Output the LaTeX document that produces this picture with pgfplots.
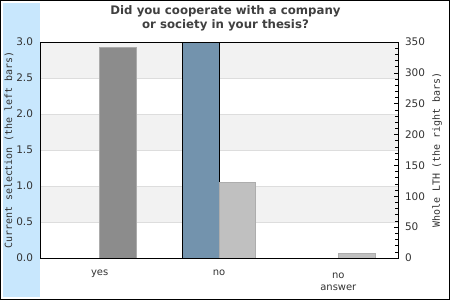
\documentclass[border=0pt]{standalone}
\usepackage{pgfplots}
\pgfplotsset{compat=1.18}
\usepackage{fontspec}
\setmainfont{DejaVu Sans}
\newfontfamily\monofont{DejaVu Sans Mono}
\definecolor{bandgray}{HTML}{F2F2F2}
\definecolor{gridgray}{HTML}{DDDDDD}
\definecolor{sidebar}{HTML}{C8E7FD}
\definecolor{selblue}{HTML}{7393AD}
\definecolor{darkbar}{HTML}{8C8C8C}
\definecolor{darkbarb}{HTML}{ABABAB}
\definecolor{lightbar}{HTML}{C0C0C0}
\definecolor{titlegray}{HTML}{404040}
\definecolor{labgray}{HTML}{333333}
\pgfplotstableread{
x sel
0 0
1 3
2 0
}\selection
\pgfplotstableread{
x lth
0 342
}\lthyes
\pgfplotstableread{
x lth
1 123
2 8
}\lthrest
\begin{document}
\begin{tikzpicture}
\path[use as bounding box] (0,0) rectangle (450bp,300bp);
\fill[white] (0,0) rectangle (450bp,300bp);
\fill[sidebar] (3bp,3bp) rectangle (40bp,297bp);
\draw[black,line width=1.2bp] (0.6bp,0.6bp) rectangle (449.4bp,299.4bp);
\node[font=\fontsize{11.8}{13.5}\bfseries\selectfont,text=titlegray,align=center] at (225.5bp,281.5bp) {Did you cooperate with a company\\or society in your thesis?};
% background bands
\begin{axis}[at={(40bp,42bp)},anchor=south west,width=358bp,height=216bp,scale only axis,
  xmin=-0.5,xmax=2.5,ymin=0,ymax=3,hide axis]
\fill[bandgray] (axis cs:-0.5,2.5) rectangle (axis cs:2.5,3.0);
\fill[bandgray] (axis cs:-0.5,1.5) rectangle (axis cs:2.5,2.0);
\fill[bandgray] (axis cs:-0.5,0.5) rectangle (axis cs:2.5,1.0);
\end{axis}
% left axis: current selection
\begin{axis}[at={(40bp,42bp)},anchor=south west,width=358bp,height=216bp,scale only axis,
  xmin=-0.5,xmax=2.5,ymin=0,ymax=3,
  axis line style={black,line width=0.8bp},
  ytick={0,0.5,...,3.0},ytick pos=left,
  ymajorgrids,grid style={gridgray,line width=0.8bp},
  major tick length=0pt,
  xtick={0,1},xticklabels={yes,no},
  extra x ticks={2},extra x tick labels={no\\answer},
  extra x tick style={grid=none,tick label style={yshift=-3bp}},
  xticklabel style={align=center,text=labgray,yshift=-8bp},
  x tick label style={font=\fontsize{10}{12.5}\selectfont},
  yticklabel style={text=labgray,font=\fontsize{10.5}{12}\selectfont,xshift=-3.5bp},
  /pgf/number format/assume math mode=true,
  /pgf/number format/.cd,fixed,fixed zerofill,precision=1,/pgfplots/.cd,
  ylabel={\monofont Current selection (the left bars)},
  ylabel style={font=\fontsize{10}{11}\selectfont,text=labgray,yshift=-4bp},
]
\addplot[ybar,bar width=0.306,bar shift=-0.153,fill=selblue,draw=black,line width=0.8bp] table[x=x,y=sel]{\selection};
\end{axis}
% right axis: whole LTH
\begin{axis}[at={(40bp,42bp)},anchor=south west,width=358bp,height=216bp,scale only axis,
  xmin=-0.5,xmax=2.5,ymin=0,ymax=350,
  axis x line=none,axis y line*=right,
  axis line style={black,line width=0.8bp},
  ytick={0,50,...,350},minor y tick num=4,
  tick align=inside,major tick length=4bp,minor tick length=3bp,
  tick style={black,line width=0.6bp},
  yticklabel style={text=labgray,font=\fontsize{10.5}{12}\selectfont,xshift=3.5bp},
  /pgf/number format/assume math mode=true,
  ylabel={\monofont Whole LTH (the right bars)},
  ylabel style={font=\fontsize{10}{11}\selectfont,text=labgray,yshift=-0.5bp},
]
\addplot[ybar,bar width=0.306,bar shift=0.153,fill=darkbar,draw=darkbarb,line width=0.8bp] table[x=x,y=lth]{\lthyes};
\addplot[ybar,bar width=0.306,bar shift=0.153,fill=lightbar,draw=lightbar!90!black,line width=0.5bp] table[x=x,y=lth]{\lthrest};
\end{axis}
\end{tikzpicture}
\end{document}
